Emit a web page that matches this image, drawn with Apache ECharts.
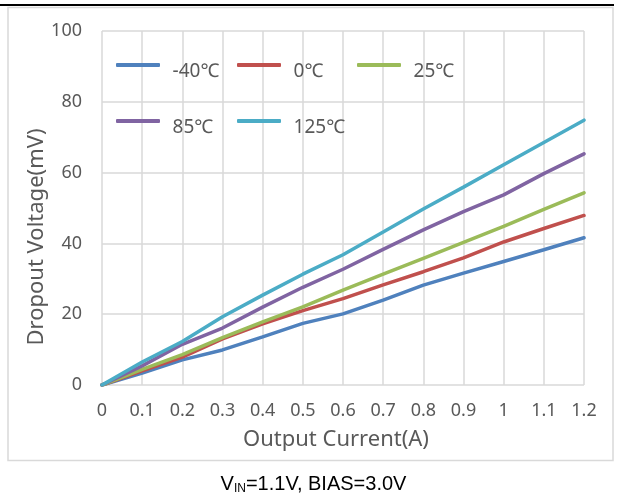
<!DOCTYPE html>
<html>
<head>
<meta charset="UTF-8">
<script src="https://cdn.jsdelivr.net/npm/echarts@6/dist/echarts.min.js"></script>
<style>
  body { margin: 0; background: #fff; }
  #chart { width: 627px; height: 497px; }
</style>
</head>
<body>
<div id="chart"></div>
<script>
  // output current (A)
  const current = [0, 0.1, 0.2, 0.3, 0.4, 0.5, 0.6, 0.7, 0.8, 0.9, 1.0, 1.1, 1.2];
  // dropout voltage (mV) per temperature
  const seriesNames = ['-40℃', '0℃', '25℃', '85℃', '125℃'];
  const vM40 = [0, 3.4, 7.1, 9.9, 13.6, 17.4, 20.1, 24.0, 28.2, 31.6, 34.9, 38.2, 41.6];
  const v0 = [0, 4.0, 7.9, 13.0, 17.3, 21.0, 24.4, 28.3, 32.0, 35.9, 40.4, 44.2, 47.9];
  const v25 = [0, 4.4, 8.6, 13.4, 17.8, 22.1, 26.8, 31.3, 35.8, 40.3, 44.8, 49.6, 54.3];
  const v85 = [0, 5.4, 11.5, 16.1, 22.0, 27.6, 32.7, 38.3, 43.8, 49.0, 53.7, 59.7, 65.3];
  const v125 = [0, 6.5, 12.3, 19.3, 25.4, 31.3, 36.8, 43.2, 49.7, 55.9, 62.2, 68.5, 74.8];
  const colors = ['#4F81BD', '#C0504D', '#9BBB59', '#8064A2', '#4BACC6'];

  const values = [vM40, v0, v25, v85, v125];
  const font = 'Noto Sans';
  const grey = '#595959';

  const chart = echarts.init(document.getElementById('chart'));

  const series = seriesNames.map((name, i) => ({
    name: name,
    type: 'line',
    data: current.map((x, j) => [x, values[i][j]]),
    showSymbol: false,
    symbol: 'none',
    lineStyle: { width: 3.5, color: colors[i], cap: 'round' },
    itemStyle: { color: colors[i] },
    z: 3
  }));

  // one legend box per item, laid out in Excel-like columns
  const legendPos = [[116, 62], [237, 62], [357, 62], [116, 118], [237, 118]];
  const legends = seriesNames.map((name, i) => ({
    data: [name],
    left: legendPos[i][0],
    top: legendPos[i][1],
    padding: 0,
    itemWidth: 44,
    itemHeight: 4,
    icon: 'roundRect',
    formatter: n => '{s| }{t|' + n + '}',
    textStyle: {
      rich: {
        s: { fontSize: 2, lineHeight: 32 },
        t: { fontFamily: font, fontSize: 19, color: grey, lineHeight: 20, verticalAlign: 'bottom', padding: [0, 0, 0, 7] }
      }
    }
  }));

  chart.setOption({
    animation: false,
    color: colors,
    grid: { left: 102, right: 43, top: 31, bottom: 112 },
    legend: legends,
    xAxis: {
      type: 'value',
      min: 0,
      max: 1.2,
      interval: 0.1,
      name: 'Output Current(A)',
      nameLocation: 'middle',
      nameGap: 44,
      nameTextStyle: { fontFamily: font, fontSize: 22, color: grey, padding: [0, 14, 0, 0] },
      axisLine: { show: false },
      axisTick: { show: false },
      axisLabel: {
        fontFamily: font, fontSize: 18, color: grey, margin: 17,
        formatter: v => String(Math.round(v * 10) / 10)
      },
      splitLine: { show: true, lineStyle: { color: '#d9d9d9', width: 1.5 } }
    },
    yAxis: {
      type: 'value',
      min: 0,
      max: 100,
      interval: 20,
      name: 'Dropout Voltage(mV)',
      nameLocation: 'middle',
      nameGap: 54,
      nameMoveOverlap: false,
      nameTextStyle: { fontFamily: font, fontSize: 22, color: grey, padding: [0, 58, 0, 0] },
      axisLine: { show: false },
      axisTick: { show: false },
      axisLabel: { fontFamily: font, fontSize: 18, color: grey, margin: 20 },
      splitLine: { show: true, lineStyle: { color: '#d9d9d9', width: 1.5 } }
    },
    graphic: [
      {
        type: 'line',
        shape: { x1: 0, y1: 5, x2: 614, y2: 5 },
        style: { stroke: '#000', lineWidth: 2 }
      },
      {
        type: 'rect',
        shape: { x: 8, y: 7.5, width: 605, height: 453 },
        style: { fill: 'none', stroke: '#d9d9d9', lineWidth: 1.5 },
        z: -1
      },
      {
        type: 'text',
        left: 'center',
        top: 474,
        style: {
          text: '{v|V}{s|IN}{v|=1.1V, BIAS=3.0V}',
          rich: {
            v: { fontFamily: 'Liberation Sans', fontSize: 20, fill: '#000' },
            s: { fontFamily: 'Liberation Sans', fontSize: 12, fill: '#000', padding: [9, 0, 0, 0] }
          }
        }
      }
    ],
    series: series
  });
</script>
</body>
</html>
